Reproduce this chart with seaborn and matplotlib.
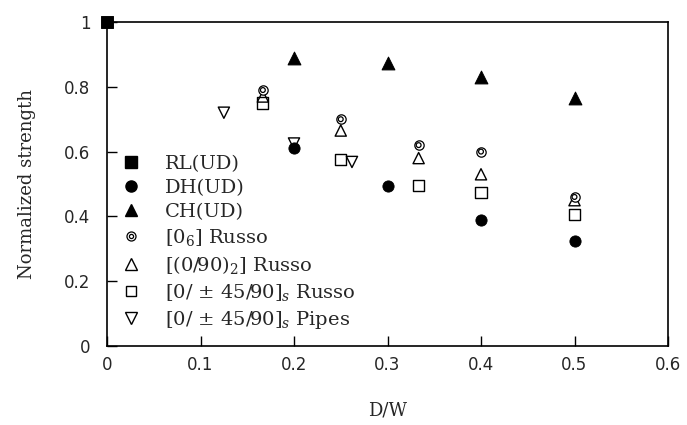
import matplotlib
matplotlib.use("Agg")
import matplotlib.pyplot as plt
import seaborn as sns
from matplotlib.lines import Line2D
from matplotlib.legend_handler import HandlerTuple

# Data (D/W vs normalized strength)
rl_x = [0.0]
rl_y = [1.0]
dh_x = [0.2, 0.3, 0.4, 0.5]
dh_y = [0.61, 0.495, 0.39, 0.325]
ch_x = [0.2, 0.3, 0.4, 0.5]
ch_y = [0.89, 0.875, 0.83, 0.765]
r06_x = [0.1667, 0.25, 0.3333, 0.4, 0.5]
r06_y = [0.79, 0.70, 0.62, 0.60, 0.46]
r090_x = [0.1667, 0.25, 0.3333, 0.4, 0.5]
r090_y = [0.77, 0.665, 0.58, 0.53, 0.45]
rq_x = [0.1667, 0.25, 0.3333, 0.4, 0.5]
rq_y = [0.75, 0.575, 0.495, 0.475, 0.405]
pq_x = [0.125, 0.2, 0.262]
pq_y = [0.72, 0.625, 0.568]

labels = ["RL(UD)", "DH(UD)", "CH(UD)", r"[0$_6$] Russo", r"[(0/90)$_2$] Russo",
          r"[0/ $\pm$ 45/90]$_s$ Russo", r"[0/ $\pm$ 45/90]$_s$ Pipes"]
xticks = [0, 0.1, 0.2, 0.3, 0.4, 0.5, 0.6]
yticks = [0, 0.2, 0.4, 0.6, 0.8, 1.0]
xtick_labels = ["0", "0.1", "0.2", "0.3", "0.4", "0.5", "0.6"]
ytick_labels = ["0", "0.2", "0.4", "0.6", "0.8", "1"]

sns.set_theme(style="white")
plt.rcParams["font.family"] = ["DejaVu Serif"]
plt.rcParams["mathtext.fontset"] = "dejavuserif"

fig = plt.figure(figsize=(6.87, 4.25), dpi=100)
ax = fig.add_axes([107/687, 1-346/425, (668-107)/687, (346-22)/425])

k = "black"
sns.scatterplot(x=rl_x, y=rl_y, marker="s", s=70, color=k, edgecolor=k, ax=ax, clip_on=False, zorder=5)
sns.scatterplot(x=dh_x, y=dh_y, marker="o", s=65, color=k, edgecolor=k, ax=ax, zorder=4)
sns.scatterplot(x=ch_x, y=ch_y, marker="^", s=85, color=k, edgecolor=k, ax=ax, zorder=4)
sns.scatterplot(x=r090_x, y=r090_y, marker="^", s=65, facecolor="none", edgecolor=k, linewidth=1.0, ax=ax, zorder=3)
sns.scatterplot(x=rq_x, y=rq_y, marker="s", s=65, facecolor="none", edgecolor=k, linewidth=1.0, ax=ax, zorder=3)
sns.scatterplot(x=pq_x, y=pq_y, marker="v", s=65, facecolor="none", edgecolor=k, linewidth=1.0, ax=ax, zorder=3)
sns.scatterplot(x=r06_x, y=r06_y, marker="o", s=45, facecolor="white", edgecolor=k, linewidth=0.9, ax=ax, zorder=6)
sns.scatterplot(x=r06_x, y=r06_y, marker="o", s=12, facecolor="none", edgecolor=k, linewidth=0.9, ax=ax, zorder=7)

ax.set_xlim(0, 0.6)
ax.set_ylim(0, 1.0)
ax.set_xticks(xticks)
ax.set_xticklabels(xtick_labels, family="DejaVu Sans", fontsize=12)
ax.set_yticks(yticks)
ax.set_yticklabels(ytick_labels, family="DejaVu Sans", fontsize=12)
ax.tick_params(axis="both", direction="in", length=7, width=1, color=k,
               bottom=True, left=True, top=False, right=False, pad=7)
ax.tick_params(axis="y", pad=12)
for sp in ax.spines.values():
    sp.set_visible(True)
    sp.set_color(k)
    sp.set_linewidth(1.2)

ax.set_xlabel("D/W", fontsize=13, labelpad=20)
ax.set_ylabel("Normalized strength", fontsize=13, labelpad=20)

h_rl = Line2D([], [], ls="", marker="s", ms=8, color=k)
h_dh = Line2D([], [], ls="", marker="o", ms=8, color=k)
h_ch = Line2D([], [], ls="", marker="^", ms=9, color=k)
h_r06a = Line2D([], [], ls="", marker="o", ms=6.5, mfc="none", mec=k, mew=0.9)
h_r06b = Line2D([], [], ls="", marker="o", ms=3, mfc="none", mec=k, mew=0.9)
h_r090 = Line2D([], [], ls="", marker="^", ms=8, mfc="none", mec=k, mew=1.0)
h_rq = Line2D([], [], ls="", marker="s", ms=7.5, mfc="none", mec=k, mew=1.0)
h_pq = Line2D([], [], ls="", marker="v", ms=8, mfc="none", mec=k, mew=1.0)

leg = ax.legend([h_rl, h_dh, h_ch, (h_r06a, h_r06b), h_r090, h_rq, h_pq], labels,
                handler_map={tuple: HandlerTuple(ndivide=1, pad=0)},
                loc="upper left", bbox_to_anchor=(0.002, 0.632), frameon=False,
                fontsize=14, handlelength=1.0, handletextpad=1.2,
                labelspacing=0.31, borderaxespad=0.3)

fig.savefig("out.png", dpi=100)
